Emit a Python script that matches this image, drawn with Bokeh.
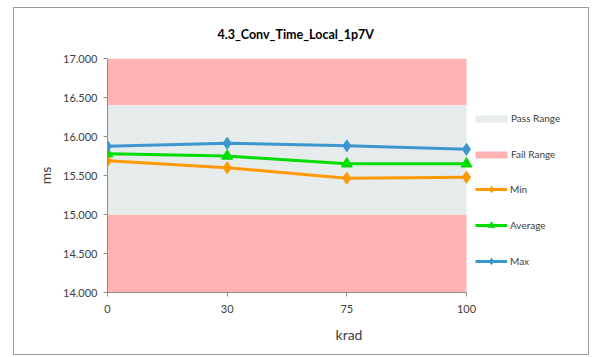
from bokeh.plotting import figure
from bokeh.models import (Range1d, FixedTicker, Legend, LegendItem, ColumnDataSource,
                          NumeralTickFormatter)
from bokeh.embed import file_html
from bokeh.resources import INLINE

# ---- data ----
categories = ["0", "30", "75", "100"]
min_vals = [15.69, 15.60, 15.465, 15.478]
avg_vals = [15.78, 15.75, 15.65, 15.65]
max_vals = [15.876, 15.914, 15.88, 15.835]
pass_low, pass_high = 15.0, 16.4
y_min, y_max = 14.0, 17.0
y_ticks = [14.0, 14.5, 15.0, 15.5, 16.0, 16.5, 17.0]

title_txt = "4.3_Conv_Time_Local_1p7V"
FONT = "Lato"
TXT = "#404040"
AX = "#8C8C8C"
C_MIN = "#FF9900"
C_AVG = "#00DD00"
C_MAX = "#3D97CF"
C_PASS = "#E6EBEB"
C_FAIL = "#FFB3B3"

xs = list(range(len(categories)))
x_end = xs[-1] * 483 / 359  # frame extends right to hold the legend

p = figure(width=576, height=348, output_backend="svg", toolbar_location=None,
           x_range=Range1d(xs[0], x_end), y_range=Range1d(y_min, y_max),
           min_border_left=93, min_border_right=0, min_border_top=50, min_border_bottom=64,
           styles={"margin-left": "13px", "margin-top": "7px", "border": "1px solid #9A9A9A"})
p.outline_line_color = None
p.xgrid.visible = False
p.ygrid.visible = False
p.background_fill_color = "white"

# bands
fail_r = p.quad(left=[xs[0], xs[0]], right=[xs[-1], xs[-1]], bottom=[y_min, pass_high],
                top=[pass_low, y_max], fill_color=C_FAIL, line_color=None)
pass_r = p.quad(left=[xs[0]], right=[xs[-1]], bottom=[pass_low], top=[pass_high],
                fill_color=C_PASS, line_color=None)

src = ColumnDataSource(dict(x=xs, mn=min_vals, av=avg_vals, mx=max_vals))
l_min = p.line("x", "mn", source=src, line_color=C_MIN, line_width=3)
s_min = p.scatter("x", "mn", source=src, marker="diamond", size=12, color=C_MIN)
l_avg = p.line("x", "av", source=src, line_color=C_AVG, line_width=3)
s_avg = p.scatter("x", "av", source=src, marker="triangle", size=11, color=C_AVG)
l_max = p.line("x", "mx", source=src, line_color=C_MAX, line_width=3)
s_max = p.scatter("x", "mx", source=src, marker="diamond", size=12, color=C_MAX)

common = dict(padding=0, margin=0, spacing=16, label_height=20,
              border_line_color=None, background_fill_alpha=0,
              label_text_font=FONT, label_text_font_size="10px", label_text_color=TXT)

legend1 = Legend(items=[
    LegendItem(label="Pass Range", renderers=[pass_r]),
    LegendItem(label="Fail Range", renderers=[fail_r]),
], location=(364, 128), glyph_width=40, glyph_height=9, label_standoff=0, **common)
legend2 = Legend(items=[
    LegendItem(label="Min", renderers=[l_min, s_min]),
    LegendItem(label="Average", renderers=[l_avg, s_avg]),
    LegendItem(label="Max", renderers=[l_max, s_max]),
], location=(368, 21), glyph_width=32, glyph_height=16, label_standoff=3, **common)
p.add_layout(legend1)
p.add_layout(legend2)

# title
p.title.text = title_txt
p.title.align = "left"
p.title.vertical_align = "top"
p.title.offset = 110
p.title.standoff = 29
p.title.text_font = FONT
p.title.text_font_size = "12.5px"
p.title.text_font_style = "bold"
p.title.text_color = "#000000"

# axes
p.xaxis.bounds = (xs[0], xs[-1])
p.xaxis.ticker = FixedTicker(ticks=xs)
p.xaxis.major_label_overrides = {i: c for i, c in zip(xs, categories)}
p.yaxis.ticker = FixedTicker(ticks=y_ticks)
p.yaxis.formatter = NumeralTickFormatter(format="0.000")
p.xaxis.axis_label = "krad"
p.yaxis.axis_label = "ms"
for ax in (p.xaxis, p.yaxis):
    ax.axis_line_color = AX
    ax.major_tick_line_color = AX
    ax.major_tick_in = 0
    ax.major_tick_out = 4
    ax.minor_tick_line_color = None
    ax.major_label_text_font = FONT
    ax.major_label_text_font_size = "11px"
    ax.major_label_text_color = TXT
    ax.axis_label_text_font = FONT
    ax.axis_label_text_font_size = "14px"
    ax.axis_label_text_font_style = "normal"
    ax.axis_label_text_color = TXT
p.yaxis.major_label_standoff = 6
p.xaxis.major_label_standoff = 8
p.xaxis.axis_label_standoff = 10
p.yaxis.axis_label_standoff = 6

open("out.html", "w").write(file_html(p, INLINE))
